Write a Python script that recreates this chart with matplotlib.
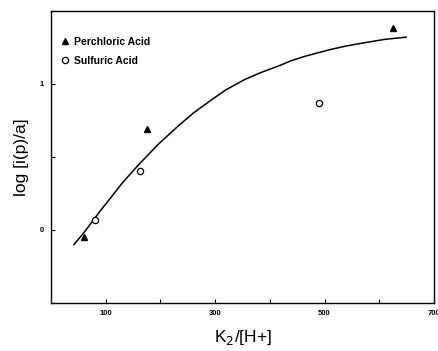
import matplotlib.pyplot as plt

plt.rcParams['font.family'] = ['Liberation Sans', 'DejaVu Sans']

# perchloric acid points
perchloric_x = [61, 175, 625]
perchloric_y = [-0.05, 0.69, 1.38]

# sulfuric acid points
sulfuric_x = [80, 163, 490]
sulfuric_y = [0.07, 0.40, 0.87]

# fitted curve
curve_x = [42, 60, 76, 90, 107, 130, 161, 197, 232, 260, 293, 320, 354, 385,
           414, 440, 465, 510, 540, 570, 610, 649]
curve_y = [-0.10, -0.02, 0.06, 0.13, 0.21, 0.32, 0.45, 0.59, 0.71, 0.80, 0.89,
           0.96, 1.03, 1.08, 1.12, 1.16, 1.19, 1.235, 1.26, 1.28, 1.305, 1.32]

xticks = [100, 200, 300, 400, 500, 600, 700]
xticklabels = ['100', '', '300', '', '500', '', '700']
yticks = [-0.5, 0, 0.5, 1, 1.5]
yticklabels = ['', '0', '', '1', '']

fig = plt.figure(figsize=(4.38, 3.51), dpi=100)
ax = fig.add_axes([0.1164, 0.137, 0.8746, 0.832])

ax.plot(curve_x, curve_y, color='black', lw=1.1)
ax.plot(perchloric_x, perchloric_y, '^', color='black', ms=4, ls='none',
        label='Perchloric Acid')
ax.plot(sulfuric_x, sulfuric_y, 'o', mfc='white', mec='black', mew=0.9, ms=4.5,
        ls='none', label='Sulfuric Acid')

ax.set_xlim(0, 700)
ax.set_ylim(-0.5, 1.5)
ax.set_xticks(xticks)
ax.set_xticklabels(xticklabels, fontsize=5.5, fontweight='bold')
ax.set_yticks(yticks)
ax.set_yticklabels(yticklabels, fontsize=5.5, fontweight='bold')
ax.tick_params(direction='in', length=3, width=0.8, pad=5)

for s in ax.spines.values():
    s.set_linewidth(1.0)

ax.set_xlabel('K$_2$/[H+]', fontsize=12.5, labelpad=8)
ax.set_ylabel('log [i(p)/a]', fontsize=12.5, labelpad=8)

ax.legend(loc='upper left', bbox_to_anchor=(0.0, 0.94), frameon=False,
          handletextpad=0.4, labelspacing=0.9,
          handlelength=1.0, borderaxespad=0.4,
          prop={'weight': 'bold', 'size': 7.5})

fig.savefig('out.png', dpi=100)
